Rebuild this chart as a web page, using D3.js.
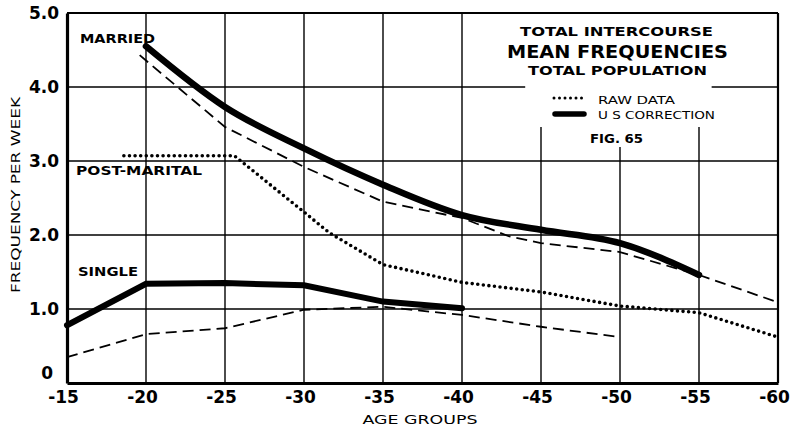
<!DOCTYPE html>
<html><head><meta charset="utf-8">
<script src="https://cdn.jsdelivr.net/npm/d3@7"></script>
<style>body{margin:0;background:#fff}svg{display:block}text{font-family:"DejaVu Sans",sans-serif;fill:#000}</style>
</head><body><svg id="c" width="793" height="431"></svg>
<script>
// ---- data ----
const xTicks = [15,20,25,30,35,40,45,50,55,60];
const xTickLabels = ["-15","-20","-25","-30","-35","-40","-45","-50","-55","-60"];
const yTicks = [0,1,2,3,4,5];
const yTickLabels = ["0","1.0","2.0","3.0","4.0","5.0"];
const marriedAge = [20,25,30,35,40,45,50,55];
const marriedUS  = [4.55,3.73,3.17,2.68,2.27,2.07,1.89,1.46];
const marriedRawAge = [19.6,25,30,35,40,43,45,50,55,60];
const marriedRaw = [4.43,3.46,2.92,2.45,2.23,1.98,1.89,1.77,1.46,1.09];
const postAge = [18.6,25.6,30,31.6,35,40,45,50,55,60];
const postRaw = [3.07,3.07,2.31,2.03,1.6,1.36,1.23,1.04,0.95,0.62];
const singleAge = [15,20,25,30,35,40];
const singleUS  = [0.78,1.34,1.35,1.32,1.1,1.01];
const singleRawAge = [15,20,25,30,35,40,45,50];
const singleRaw = [0.35,0.66,0.74,0.99,1.03,0.92,0.76,0.62];

// ---- layout ----
const W=793,H=431,m={l:67,r:15,t:13,b:48};
const svg=d3.select("#c");
const x=d3.scaleLinear().domain([15,60]).range([m.l,W-m.r]);
const y=d3.scaleLinear().domain([0,5]).range([H-m.b,m.t]);

// grid (with gaps around title box)
const g=svg.append("g").attr("stroke","#000").attr("stroke-width",1.4);
yTicks.filter(v=>v>0&&v<5).forEach(v=>{
  if(v===4){
    g.append("line").attr("x1",x(15)).attr("x2",x(44)).attr("y1",y(v)).attr("y2",y(v));
    g.append("line").attr("x1",x(55.8)).attr("x2",x(60)).attr("y1",y(v)).attr("y2",y(v));
  } else g.append("line").attr("x1",x(15)).attr("x2",x(60)).attr("y1",y(v)).attr("y2",y(v));
});
const vStart={45:3.46,50:3.19,55:3.46};
xTicks.filter(v=>v>15&&v<60).forEach(v=>{
  const top = vStart[v]!==undefined? vStart[v]:5;
  g.append("line").attr("x1",x(v)).attr("x2",x(v)).attr("y1",y(top)).attr("y2",y(0));
});
// frame
svg.append("line").attr("x1",x(15)).attr("x2",x(60)).attr("y1",y(5)).attr("y2",y(5)).attr("stroke","#000").attr("stroke-width",2);
svg.append("line").attr("x1",x(60)).attr("x2",x(60)).attr("y1",y(5)).attr("y2",y(0)).attr("stroke","#000").attr("stroke-width",2.2);

// axes
const xAxis=d3.axisBottom(x).tickValues(xTicks).tickFormat((d,i)=>xTickLabels[i]).tickSize(0).tickPadding(8);
const xa=svg.append("g").attr("transform",`translate(0,${y(0)})`).call(xAxis);
xa.select(".domain").attr("stroke","#000").attr("stroke-width",3.2);
xa.selectAll("text").attr("font-size",17).attr("font-weight","bold").attr("dx",-4).attr("font-family","DejaVu Sans");
const yAxis=d3.axisLeft(y).tickValues(yTicks).tickFormat((d,i)=>yTickLabels[i]).tickSize(0).tickPadding(8);
const ya=svg.append("g").attr("transform",`translate(${x(15)},0)`).call(yAxis);
ya.select(".domain").attr("stroke","#000").attr("stroke-width",3.2);
ya.selectAll("text").attr("font-size",17).attr("font-weight","bold").attr("font-family","DejaVu Sans")
  .attr("dy",(d)=>d===0?"-0.25em":"0.32em").attr("dx",d=>d===0?-6:0);

// lines
const line=d3.line().x(d=>x(d[0])).y(d=>y(d[1])).curve(d3.curveMonotoneX);
const zip=(a,b)=>a.map((v,i)=>[v,b[i]]);
const lin=d3.line().x(d=>x(d[0])).y(d=>y(d[1]));
svg.append("path").attr("d",lin(zip(marriedRawAge,marriedRaw))).attr("fill","none").attr("stroke","#000").attr("stroke-width",1.8).attr("stroke-dasharray","11 6");
svg.append("path").attr("d",lin(zip(singleRawAge,singleRaw))).attr("fill","none").attr("stroke","#000").attr("stroke-width",1.8).attr("stroke-dasharray","11 6");
svg.append("path").attr("d",lin(zip(postAge,postRaw))).attr("fill","none").attr("stroke","#000").attr("stroke-width",3.6).attr("stroke-linecap","round").attr("stroke-dasharray","0 5.6");
svg.append("path").attr("d",line(zip(marriedAge,marriedUS))).attr("fill","none").attr("stroke","#000").attr("stroke-width",6.5).attr("stroke-linecap","round");
svg.append("path").attr("d",lin(zip(singleAge,singleUS))).attr("fill","none").attr("stroke","#000").attr("stroke-width",6).attr("stroke-linecap","round");

// text helper
function txt(s,xx,yy,size,w,len,anchor){
  const t=svg.append("text").attr("x",xx).attr("y",yy).attr("font-size",size).attr("font-weight",w||"bold")
   .attr("dominant-baseline","central").attr("text-anchor",anchor||"start").text(s);
  if(len) t.attr("textLength",len).attr("lengthAdjust","spacingAndGlyphs");
  return t;
}
txt("MARRIED",80,38,13,"bold",75);
txt("POST-MARITAL",76,170,13,"bold",126);
txt("SINGLE",78,271,13,"bold",60);

// title block
txt("TOTAL  INTERCOURSE",520,31,13,"bold",193);
txt("MEAN FREQUENCIES",507,51,18,"bold",221);
txt("TOTAL  POPULATION",528,70,13,"bold",179);
// legend
svg.append("line").attr("x1",554).attr("x2",584).attr("y1",98).attr("y2",98).attr("stroke","#000").attr("stroke-width",3).attr("stroke-linecap","round").attr("stroke-dasharray","0 5.5");
svg.append("line").attr("x1",555).attr("x2",584).attr("y1",114).attr("y2",114).attr("stroke","#000").attr("stroke-width",5.5).attr("stroke-linecap","round");
txt("RAW  DATA",598,100,11,"normal",77);
txt("U S  CORRECTION",598,115,11,"normal",117);
txt("FIG. 65",590,138,13,"bold",53);

// axis titles
txt("AGE  GROUPS",420,419,13,"normal",115,"middle");
svg.append("text").attr("transform","translate(15,195) rotate(-90)").attr("text-anchor","middle").attr("dominant-baseline","central")
  .attr("font-size",13).attr("textLength",196).attr("lengthAdjust","spacingAndGlyphs").text("FREQUENCY  PER  WEEK");
</script></body></html>
